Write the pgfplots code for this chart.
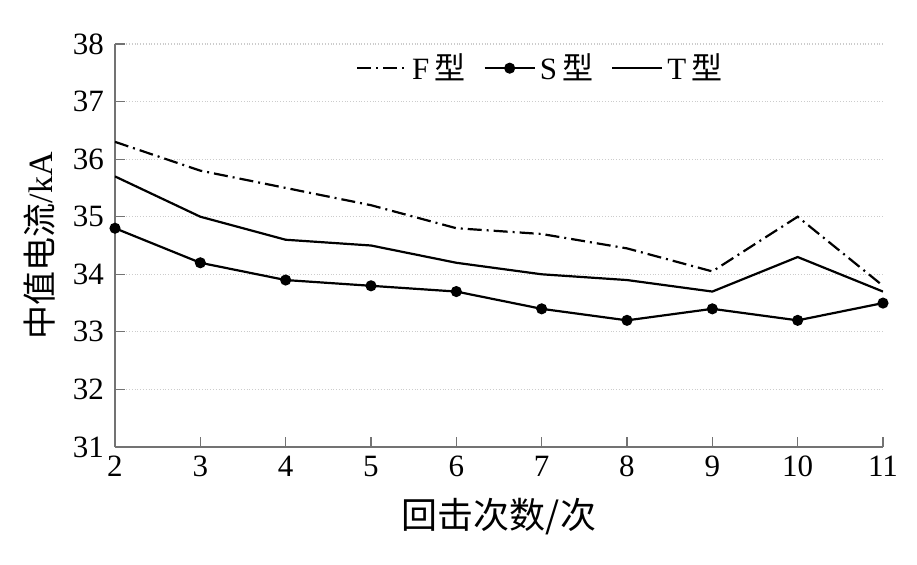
\documentclass[border=0pt]{standalone}
\usepackage{fontspec}
\setmainfont{Liberation Serif}
\newfontfamily\cjk{Noto Sans CJK SC}
\usepackage{pgfplots}
\pgfplotsset{compat=1.18}
\begin{document}
\begin{tikzpicture}
\path[use as bounding box] (-57.5pt,-58.5pt) rectangle (401pt,223.5pt);
\begin{axis}[
  at={(0,0)}, anchor=south west,
  scale only axis, width=384pt, height=201.5pt,
  xmin=2, xmax=11, ymin=31, ymax=38,
  xtick={2,...,11}, ytick={31,...,38},
  axis x line*=bottom, axis y line*=left,
  axis line style={draw=black!55, line width=0.7pt},
  tick style={draw=black!55, line width=0.6pt},
  tick align=inside, major tick length=5pt,
  ymajorgrids, grid style={densely dotted, draw=black!20, line width=0.6pt},
  /pgf/number format/assume math mode=true,
  tick label style={font=\fontsize{15.5}{18}\selectfont},
  yticklabel style={xshift=-2pt},
  xticklabel style={yshift=-1pt},
  xlabel={\cjk 回击次数/次},
  ylabel={{\cjk 中值电流}/kA},
  xlabel style={font=\fontsize{18}{20}\selectfont, yshift=-4pt},
  ylabel style={font=\fontsize{17}{20}\selectfont, yshift=2pt},
  legend columns=3,
  legend style={at={(0.555,0.94)}, anchor=center, draw=none, fill=none,
    font=\fontsize{15.5}{18}\selectfont,
    /tikz/every even column/.append style={column sep=7pt}},
  legend image code/.code={\draw[mark repeat=2,mark phase=2,#1] plot coordinates {(0pt,0pt) (12.5pt,0pt) (25pt,0pt)};},
]
\addplot[black, line width=1.1pt, dash pattern=on 7pt off 2.5pt on 1pt off 2.5pt] coordinates {
(2,36.3) (3,35.8) (4,35.5) (5,35.2) (6,34.8) (7,34.7) (8,34.45) (9,34.05) (10,35.0) (11,33.8)};
\addlegendentry{F\,{\cjk 型}}
\addplot[black, line width=1.1pt, mark=*, mark size=2.2pt] coordinates {
(2,34.8) (3,34.2) (4,33.9) (5,33.8) (6,33.7) (7,33.4) (8,33.2) (9,33.4) (10,33.2) (11,33.5)};
\addlegendentry{S\,{\cjk 型}}
\addplot[black, line width=1.1pt] coordinates {
(2,35.7) (3,35.0) (4,34.6) (5,34.5) (6,34.2) (7,34.0) (8,33.9) (9,33.7) (10,34.3) (11,33.7)};
\addlegendentry{T\,{\cjk 型}}
\end{axis}
\end{tikzpicture}
\end{document}
